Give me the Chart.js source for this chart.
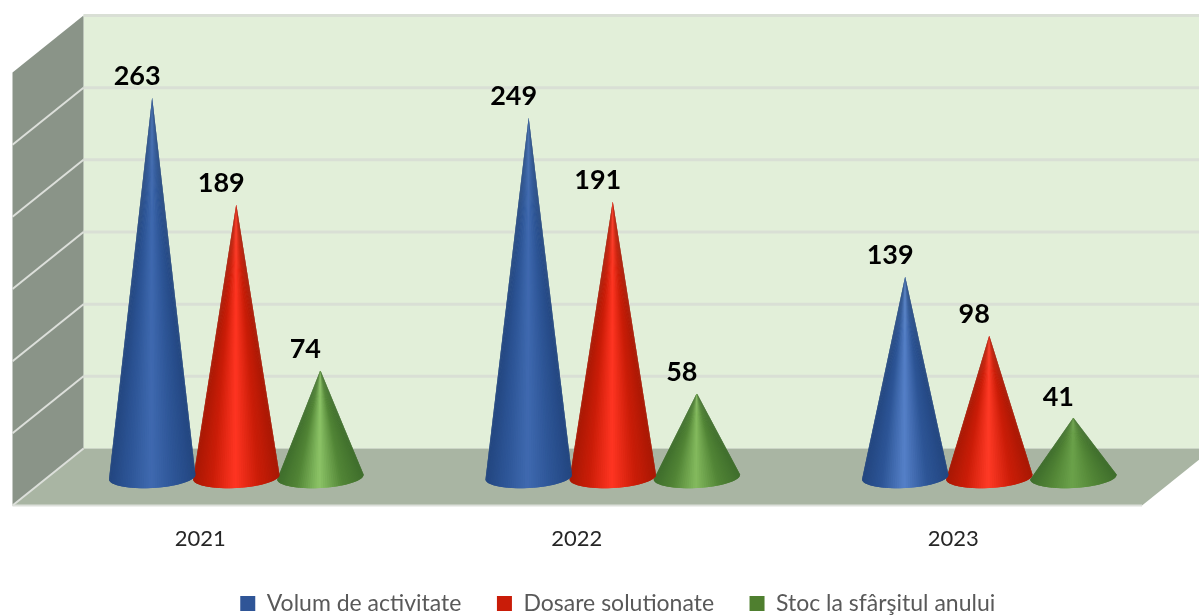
<!DOCTYPE html>
<html lang="ro">
<head>
<meta charset="UTF-8">
<title>Volum de activitate</title>
<script src="https://cdn.jsdelivr.net/npm/chart.js"></script>
<style>
    html, body { margin: 0; padding: 0; background: #fff; }
    #chart { display: block; filter: blur(0.6px); }
</style>
</head>
<body>
<canvas id="chart" width="1199" height="615"></canvas>
<script>
const years = ['2021', '2022', '2023'];
const volum = [263, 249, 139];
const dosare = [189, 191, 98];
const stoc = [74, 58, 41];
const yTicks = [0, 50, 100, 150, 200, 250, 300];

const seriesNames = ['Volum de activitate', 'Dosare solutionate', 'Stoc la sfârşitul anului'];
const seriesColors = ['#2f5597', '#c91c08', '#4f7f2f'];
// edge, mid, highlight per series, one highlight per year
const coneEdge = ['#234680', '#a81804', '#3f6e2c'];
const coneMid = ['#2d5596', '#cb1d08', '#528536'];
const coneLight = [
    ['#3f69b0', '#3f69b0', '#5580c8'],
    ['#ff3522', '#ff3522', '#ff3a26'],
    ['#8cc467', '#84ba5e', '#6ba24a']
];

// depth of the 3D box, from the plane of the cones to the back wall
const depthX = 35.5;
const depthY = 28.5;

function mix(a, b, t) {
    const pa = parseInt(a.slice(1), 16), pb = parseInt(b.slice(1), 16);
    const ch = s => Math.round(((pa >> s) & 255) * (1 - t) + ((pb >> s) & 255) * t);
    return `rgb(${ch(16)},${ch(8)},${ch(0)})`;
}

function coneShade(u, edge, mid, light) {
    if (u < 0.25) return mix(edge, mid, u / 0.25);
    if (u < 0.52) return mix(mid, light, (u - 0.25) / 0.27);
    if (u < 0.78) return mix(light, mid, (u - 0.52) / 0.26);
    return mix(mid, edge, (u - 0.78) / 0.22);
}

// bar controller that paints each bar as a cone
class ConeController extends Chart.BarController {
    draw() {
        const ctx = this.chart.ctx;
        const di = this.index;
        this._cachedMeta.data.forEach((bar, i) => {
            const rx = bar.width / 2 * 1.03;
            const ry = 11;
            const rot = -0.055;
            const steps = 60;
            const pt = t => {
                const ex = rx * Math.cos(t), ey = ry * Math.sin(t);
                return [bar.x + ex * Math.cos(rot) - ey * Math.sin(rot),
                        bar.base + ex * Math.sin(rot) + ey * Math.cos(rot)];
            };
            ctx.save();
            for (let s = 0; s < steps; s++) {
                const t0 = Math.PI - Math.PI * s / steps;
                // each slice runs under the next one so no seams show
                const t1 = Math.max(0, Math.PI - Math.PI * (s + 2) / steps);
                const u = (1 - Math.cos(Math.PI - Math.PI * (s + 0.5) / steps)) / 2;
                const a = pt(t0), b = pt(t1);
                ctx.fillStyle = coneShade(u, coneEdge[di], coneMid[di], coneLight[di][i]);
                ctx.beginPath();
                ctx.moveTo(bar.x, bar.y);
                ctx.lineTo(a[0], a[1]);
                ctx.lineTo(b[0], b[1]);
                ctx.closePath();
                ctx.fill();
            }
            ctx.restore();
        });
    }
}
ConeController.id = 'cone';
ConeController.defaults = Chart.BarController.defaults;
Chart.register(ConeController);

const box3d = {
    id: 'box3d',
    afterLayout(chart) {
        // legend sits lower and further right than the default place
        const lg = chart.legend;
        lg.left += 5;
        lg.right += 5;
        const h = lg.bottom - lg.top;
        lg.top = 556.5;
        lg.bottom = lg.top + h;
    },
    beforeDatasetsDraw(chart) {
        const { ctx, chartArea: a, scales: { y } } = chart;
        const bl = a.left + depthX, br = a.right + depthX;
        const fl = a.left - depthX, fr = a.right - depthX;
        const back0 = y.getPixelForValue(0) - depthY;
        const backTop = y.getPixelForValue(300) - depthY;
        const front0 = y.getPixelForValue(0) + depthY;
        const frontTop = y.getPixelForValue(300) + depthY;
        const poly = (pts, fill) => {
            ctx.beginPath();
            pts.forEach((p, i) => i ? ctx.lineTo(p[0], p[1]) : ctx.moveTo(p[0], p[1]));
            ctx.closePath();
            ctx.fillStyle = fill;
            ctx.fill();
        };
        ctx.save();
        poly([[bl, backTop], [br, backTop], [br, back0], [bl, back0]], '#e2efd9');
        poly([[fl, frontTop], [bl, backTop], [bl, back0], [fl, front0]], '#8a9488');
        poly([[bl, back0], [br, back0], [fr, front0], [fl, front0]], '#a9b5a3');

        ctx.lineWidth = 3;
        ctx.strokeStyle = '#d9dfd5';
        yTicks.forEach(v => {
            if (v === 0) return;
            const py = y.getPixelForValue(v) - depthY;
            ctx.beginPath();
            ctx.moveTo(bl, py);
            ctx.lineTo(br, py);
            ctx.stroke();
        });
        ctx.lineWidth = 2;
        ctx.strokeStyle = '#dcdfda';
        yTicks.forEach(v => {
            if (v === 300) return;
            const py = y.getPixelForValue(v) - depthY;
            ctx.beginPath();
            ctx.moveTo(bl, py);
            ctx.lineTo(fl, py + 2 * depthY);
            ctx.stroke();
        });
        ctx.beginPath();
        ctx.moveTo(fl, front0);
        ctx.lineTo(fr, front0);
        ctx.stroke();
        ctx.restore();
    },
    afterDatasetsDraw(chart) {
        const ctx = chart.ctx;
        ctx.save();
        ctx.font = 'bold 27px Lato';
        ctx.fillStyle = '#000';
        ctx.textAlign = 'center';
        ctx.textBaseline = 'middle';
        chart.data.datasets.forEach((ds, di) => {
            chart.getDatasetMeta(di).data.forEach((bar, i) => {
                ctx.fillText(ds.data[i], bar.x - 15, bar.y - 21);
            });
        });
        ctx.restore();
    }
};

new Chart(document.getElementById('chart'), {
    type: 'cone',
    data: {
        labels: years,
        datasets: [
            { label: seriesNames[0], data: volum, backgroundColor: seriesColors[0], clip: false },
            { label: seriesNames[1], data: dosare, backgroundColor: seriesColors[1], clip: false },
            { label: seriesNames[2], data: stoc, backgroundColor: seriesColors[2], clip: false }
        ]
    },
    plugins: [box3d],
    options: {
        responsive: false,
        animation: false,
        layout: { padding: { left: 48, right: 21.5, top: 44, bottom: 0 } },
        datasets: { cone: { categoryPercentage: 0.67, barPercentage: 1 } },
        plugins: {
            tooltip: { enabled: false },
            legend: {
                position: 'bottom',
                labels: {
                    boxWidth: 15,
                    boxHeight: 15,
                    padding: 35.5,
                    color: '#595959',
                    font: { family: 'Lato', size: 23 }
                }
            }
        },
        scales: {
            x: {
                type: 'category',
                offset: true,
                grid: { display: false },
                border: { display: false },
                afterFit(axis) { axis.height = 69.5; },
                ticks: {
                    color: '#262626',
                    padding: 41,
                    labelOffset: -36,
                    font: { family: 'Lato', size: 22 }
                }
            },
            y: {
                type: 'linear',
                min: 0,
                max: 300,
                grid: { display: false },
                border: { display: false },
                afterFit(axis) { axis.width = 0; },
                ticks: { display: false, stepSize: 50 }
            }
        }
    }
});
</script>
</body>
</html>
